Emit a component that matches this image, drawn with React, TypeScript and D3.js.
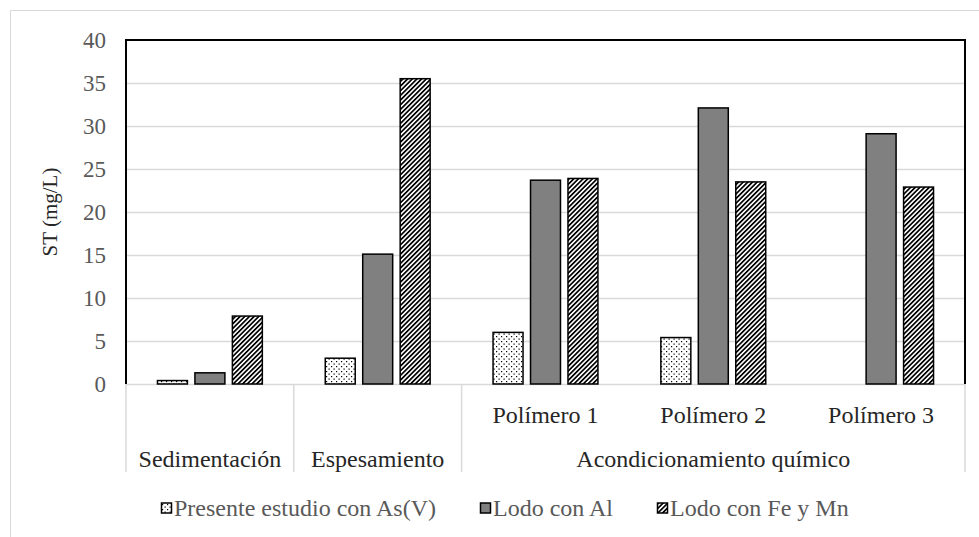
import * as d3 from "d3";

const categories = ["Sedimentación", "Espesamiento", "Polímero 1", "Polímero 2", "Polímero 3"];
const innerLabels = ["", "", "Polímero 1", "Polímero 2", "Polímero 3"];
const outerLabels = ["Sedimentación", "Espesamiento", "Acondicionamiento químico"];
const outerSpans = [1, 1, 3];
const seriesNames = ["Presente estudio con As(V)", "Lodo con Al", "Lodo con Fe y Mn"];
const asV = [0.4, 3.0, 6.0, 5.4, null];
const al = [1.3, 15.1, 23.7, 32.1, 29.1];
const feMn = [7.9, 35.5, 23.9, 23.5, 22.9];
const yTicks = [0, 5, 10, 15, 20, 25, 30, 35, 40];

const W = 979;
const H = 537;
const margin = { left: 126, right: 14, top: 40, bottom: 153 };
const font = "Liberation Serif, Times New Roman, serif";
const fills = ["url(#dots)", "#808080", "url(#stripes)"];

export default function App() {
  const series = [asV, al, feMn];
  const x0 = d3
    .scaleBand()
    .domain(categories)
    .range([margin.left, W - margin.right])
    .padding(0);
  const groupW = x0.bandwidth() * 0.625;
  const x1 = d3
    .scaleBand()
    .domain(seriesNames)
    .range([0, groupW])
    .paddingInner(0.2)
    .paddingOuter(0);
  const y = d3
    .scaleLinear()
    .domain([0, 40])
    .range([H - margin.bottom, margin.top]);

  const x0Pos = (i: number) => x0(categories[i]) as number;
  const bottom = y(0);
  const sepBottom = bottom + 88;

  // positions of the outer category cells
  let start = 0;
  const outerCells = outerLabels.map((label, i) => {
    const a = x0Pos(start);
    const b = x0Pos(start + outerSpans[i] - 1) + x0.bandwidth();
    start += outerSpans[i];
    return { label, a, b };
  });

  // legend layout
  const legendX = [161, 480, 657];
  const txt = { fontFamily: font };

  return (
    <svg
      width={W}
      height={H}
      style={{ position: "absolute", left: 0, top: 0, background: "#fff", fontFamily: font }}
    >
      <defs>
        <pattern id="dots" width="5" height="5" patternUnits="userSpaceOnUse">
          <rect width="5" height="5" fill="#fff" />
          <rect x="1" y="1" width="1.2" height="1.2" fill="#000" />
          <rect x="3.5" y="3.5" width="1.2" height="1.2" fill="#000" />
        </pattern>
        <pattern
          id="stripes"
          width="3.3"
          height="3.3"
          patternUnits="userSpaceOnUse"
          patternTransform="rotate(45)"
        >
          <rect width="3.3" height="3.3" fill="#fff" />
          <rect width="1.7" height="3.3" fill="#000" />
        </pattern>
      </defs>

      <rect x={10.5} y={10.5} width={1000} height={600} fill="#fff" stroke="#d9d9d9" />

      {/* gridlines */}
      {yTicks
        .filter((t) => t > 0 && t < 40)
        .map((t) => (
          <line
            key={t}
            x1={margin.left}
            x2={W - margin.right}
            y1={Math.round(y(t)) + 0.5}
            y2={Math.round(y(t)) + 0.5}
            stroke="#d9d9d9"
            strokeWidth={1.5}
          />
        ))}

      {/* category axis and separators */}
      <line x1={margin.left} x2={W - margin.right} y1={bottom + 0.5} y2={bottom + 0.5} stroke="#d9d9d9" strokeWidth={1.5} />
      {[margin.left, x0Pos(1), x0Pos(2), W - margin.right].map((sx, i) => (
        <line key={i} x1={sx} x2={sx} y1={bottom} y2={sepBottom} stroke="#d9d9d9" strokeWidth={1.5} />
      ))}

      {/* bars */}
      {series.map((vals, s) =>
        vals.map((v, i) =>
          v == null ? null : (
            <rect
              key={`${s}-${i}`}
              x={x0Pos(i) + (x0.bandwidth() - groupW) / 2 + (x1(seriesNames[s]) as number)}
              y={y(v)}
              width={x1.bandwidth()}
              height={bottom - y(v)}
              fill={fills[s]}
              stroke="#000"
              strokeWidth={1.5}
            />
          )
        )
      )}

      {/* plot frame */}
      <path
        d={`M${margin.left},${bottom} V${margin.top} H${W - margin.right} V${bottom}`}
        fill="none"
        stroke="#000"
        strokeWidth={2}
      />

      {/* y tick labels */}
      {yTicks.map((t) => (
        <text key={t} x={106} y={y(t)} dy="0.35em" textAnchor="end" fontSize={23} fill="#595959" style={txt}>
          {t}
        </text>
      ))}

      <text
        transform={`translate(57,${(margin.top + bottom) / 2}) rotate(-90)`}
        textAnchor="middle"
        fontSize={21}
        fill="#262626"
        style={txt}
      >
        ST (mg/L)
      </text>

      {/* inner category labels */}
      {innerLabels.map((l, i) =>
        l ? (
          <text key={i} x={x0Pos(i) + x0.bandwidth() / 2} y={415} dy="0.35em" textAnchor="middle" fontSize={24} fill="#262626" style={txt}>
            {l}
          </text>
        ) : null
      )}

      {/* outer category labels */}
      {outerCells.map((c) => (
        <text key={c.label} x={(c.a + c.b) / 2} y={459} dy="0.35em" textAnchor="middle" fontSize={24} fill="#262626" style={txt}>
          {c.label}
        </text>
      ))}

      {/* legend */}
      {seriesNames.map((n, s) => (
        <g key={n} transform={`translate(${legendX[s]},508)`}>
          <rect x={0.5} y={-5} width={10} height={10} fill={fills[s]} stroke="#000" strokeWidth={1.5} />
          <text x={13} y={0} dy="0.35em" fontSize={24} fill="#595959" style={txt}>
            {n}
          </text>
        </g>
      ))}
    </svg>
  );
}
